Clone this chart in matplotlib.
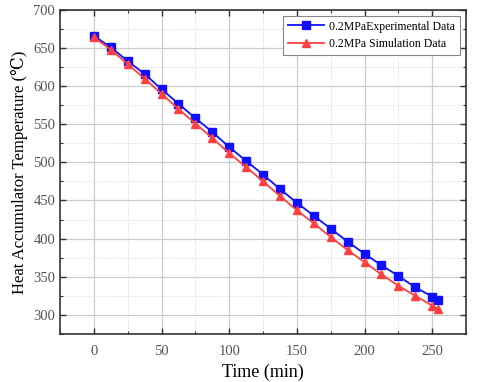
# plot.py
# Heat accumulator temperature vs time, experimental vs simulation (0.2 MPa)

import matplotlib.pyplot as plt
from matplotlib.ticker import MultipleLocator

plt.rcParams["font.family"] = ["Liberation Serif", "DejaVu Serif"]

# ---- data ----
time_exp = [0, 12.5, 25, 37.5, 50, 62.5, 75, 87.5, 100, 112.5, 125, 137.5,
            150, 162.5, 175, 187.5, 200, 212.5, 225, 237.5, 250, 254]
temp_exp = [666, 651, 633, 616, 596, 577, 558, 540, 520, 502, 484, 465,
            447, 430, 413, 396, 380, 365, 351, 336, 324, 320]

time_sim = [0, 12.5, 25, 37.5, 50, 62.5, 75, 87.5, 100, 112.5, 125, 137.5,
            150, 162.5, 175, 187.5, 200, 212.5, 225, 237.5, 250, 254]
temp_sim = [664, 648, 629, 610, 590, 570, 551, 532, 512, 494, 475, 456,
            437, 420, 402, 385, 369, 353, 338, 325, 312, 308]

label_exp = "0.2MPaExperimental Data"
label_sim = "0.2MPa Simulation Data"


def plot():
    fig = plt.figure(figsize=(4.8, 3.82), dpi=100)
    ax = fig.add_axes([0.125, 0.126, 0.846, 0.848])

    ax.plot(time_exp, temp_exp, color="#1010ff", marker="s", markersize=5.5,
            linewidth=1.3, label=label_exp, zorder=3)
    ax.plot(time_sim, temp_sim, color="#ff4040", marker="^", markersize=6,
            linewidth=1.3, label=label_sim, zorder=3)

    ax.set_xlim(-25, 275)
    ax.set_ylim(275, 700)
    ax.xaxis.set_major_locator(MultipleLocator(50))
    ax.xaxis.set_minor_locator(MultipleLocator(25))
    ax.yaxis.set_major_locator(MultipleLocator(50))
    ax.yaxis.set_minor_locator(MultipleLocator(25))

    ax.grid(True, which="major", color="#cccccc", linewidth=0.9)
    ax.grid(True, which="minor", color="#d4d4d4", linewidth=0.7, linestyle=":")
    ax.set_axisbelow(True)

    ax.tick_params(which="both", direction="in", top=True, right=True,
                   labelsize=10.5, labelcolor="#555555", color="#333333")
    ax.tick_params(which="major", length=4, width=1)
    ax.tick_params(which="minor", length=2.5, width=0.8)
    ax.tick_params(axis="x", pad=8)
    for s in ax.spines.values():
        s.set_linewidth(1.2)
        s.set_color("#333333")

    ax.set_xlabel("Time (min)", fontsize=13)
    ax.set_ylabel("Heat Accumulator Temperature (\u2103)", fontsize=12)

    leg = ax.legend(loc="upper right", fontsize=8.5, fancybox=False,
                    edgecolor="#888888", framealpha=1, handlelength=3.0,
                    labelspacing=0.45, borderpad=0.4, handletextpad=0.5,
                    borderaxespad=0.5)
    leg.get_frame().set_linewidth(0.8)

    fig.savefig("out.png", dpi=100)


if __name__ == "__main__":
    plot()
